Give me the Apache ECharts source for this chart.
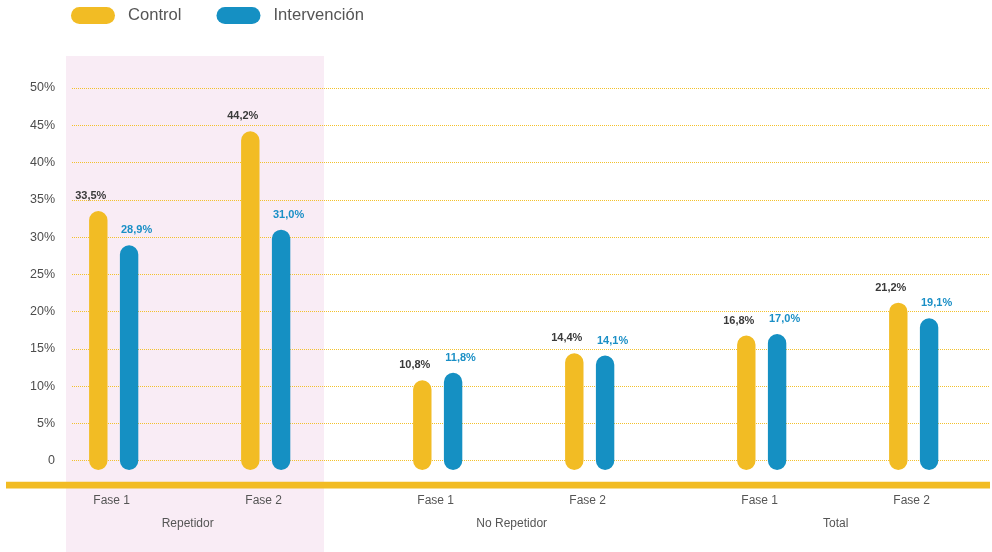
<!DOCTYPE html>
<html>
<head>
<meta charset="utf-8">
<script src="https://cdn.jsdelivr.net/npm/echarts@6/dist/echarts.min.js"></script>
<style>
  html, body { margin: 0; padding: 0; background: #fff; }
  #chart { width: 992px; height: 552px; }
</style>
</head>
<body>
<div id="chart"></div>
<script>
// Share of students per phase, by group
const groups = ['Repetidor', 'No Repetidor', 'Total'];
const categories = ['Fase 1', 'Fase 2', 'Fase 1', 'Fase 2', 'Fase 1', 'Fase 2'];
const control = [33.5, 44.2, 10.8, 14.4, 16.8, 21.2];
const intervencion = [28.9, 31.0, 11.8, 14.1, 17.0, 19.1];
const yTicks = [0, 5, 10, 15, 20, 25, 30, 35, 40, 45, 50];

const YELLOW = '#f2bc24';
const BLUE = '#1590c3';
const FONT = '"Liberation Sans", Arial, sans-serif';

const GROUP_SHIFT = 20;   // extra spacing between the three groups (px)
const BAR_W = 18.4;
const BAR_OFF = 15.4;     // half distance between the two bars of a pair

function fmt(v) { return v.toFixed(1).replace('.', ',') + '%'; }

function makeRender(side, labelColor, withAxisText) {
  return function (params, api) {
    const idx = api.value(0);
    const val = api.value(1);
    const top = api.coord([idx, val]);
    const base = api.coord([idx, 0]);
    const g = Math.floor(idx / 2);
    const cx = top[0] + (g - 1) * GROUP_SHIFT;
    const x = cx + side * BAR_OFF;
    const r = BAR_W / 2;
    const children = [
      {
        type: 'rect',
        shape: { x: x - r, y: top[1], width: BAR_W, height: base[1] - top[1] + r, r: r },
        style: { fill: api.visual('color') }
      },
      {
        type: 'text',
        style: {
          text: fmt(val), x: x + side * 7.5, y: top[1] - 15,
          textAlign: 'center', textVerticalAlign: 'middle',
          fill: labelColor, fontSize: 11, fontWeight: 'bold', fontFamily: FONT
        }
      }
    ];
    if (withAxisText) {
      children.push({
        type: 'text',
        style: {
          text: categories[idx], x: cx - 2, y: base[1] + 40,
          textAlign: 'center', textVerticalAlign: 'middle',
          fill: '#555', fontSize: 12, fontFamily: FONT
        }
      });
      if (idx % 2 === 0) {
        const next = api.coord([idx + 1, 0]);
        children.push({
          type: 'text',
          style: {
            text: groups[g], x: (cx + next[0] + (g - 1) * GROUP_SHIFT) / 2 - 2, y: base[1] + 62.5,
            textAlign: 'center', textVerticalAlign: 'middle',
            fill: '#555', fontSize: 12, fontFamily: FONT
          }
        });
      }
    }
    return { type: 'group', children: children };
  };
}

const chart = echarts.init(document.getElementById('chart'), null, { renderer: 'canvas' });

chart.setOption({
  animation: false,
  textStyle: { fontFamily: FONT },
  legend: {
    data: ['Control', 'Intervención'],
    left: 71, top: 7, padding: 0,
    itemWidth: 44, itemHeight: 17, itemGap: 35,
    icon: 'path://M8.5,0H35.5A8.5,8.5,0,0,1,35.5,17H8.5A8.5,8.5,0,0,1,8.5,0Z',
    textStyle: { fontSize: 16.6, color: '#555', fontFamily: FONT, padding: [0, 0, 0, 8] }
  },
  graphic: [
    { type: 'rect', z: -10, shape: { x: 66, y: 56, width: 258, height: 496 }, style: { fill: '#f9ecf5' } },
    { type: 'rect', z: 10, shape: { x: 6, y: 481.8, width: 984, height: 6.6 }, style: { fill: YELLOW } }
  ],
  grid: [
    { left: 72, right: 2, top: 88, bottom: 91.3 },
    { left: 57.7, right: 22.3, top: 88, bottom: 91.3 }
  ],
  xAxis: [
    { gridIndex: 0, type: 'value', show: false },
    { gridIndex: 1, type: 'category', data: categories, show: false }
  ],
  yAxis: [
    {
      gridIndex: 0, type: 'value', min: 0, max: 50, interval: 5,
      axisLine: { show: false }, axisTick: { show: false },
      axisLabel: {
        margin: 17, fontSize: 12.5, color: '#4d4d4d', fontFamily: FONT,
        formatter: function (v) { return yTicks.indexOf(v) === 0 ? '0' : v + '%'; }
      },
      splitLine: { show: true, lineStyle: { color: '#f3c12c', width: 1, type: [1, 1] } }
    },
    { gridIndex: 1, type: 'value', min: 0, max: 50, show: false }
  ],
  series: [
    {
      name: 'Control', type: 'custom', xAxisIndex: 1, yAxisIndex: 1,
      itemStyle: { color: YELLOW },
      renderItem: makeRender(-1, '#3a3a3a', true),
      data: control.map(function (v, i) { return [i, v]; }),
      z: 5
    },
    {
      name: 'Intervención', type: 'custom', xAxisIndex: 1, yAxisIndex: 1,
      itemStyle: { color: BLUE },
      renderItem: makeRender(1, '#1a8fc6', false),
      data: intervencion.map(function (v, i) { return [i, v]; }),
      z: 5
    }
  ]
});
</script>
</body>
</html>
